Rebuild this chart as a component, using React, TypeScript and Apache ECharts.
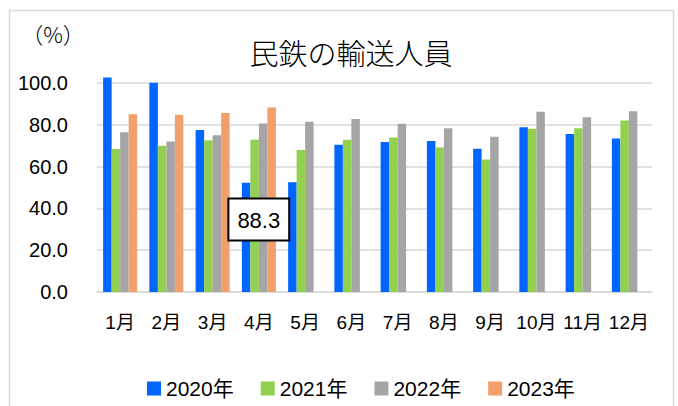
import React, { useEffect, useRef } from "react";
import * as echarts from "echarts";

const categories = ["1月", "2月", "3月", "4月", "5月", "6月", "7月", "8月", "9月", "10月", "11月", "12月"];
const seriesNames = ["2020年", "2021年", "2022年", "2023年"];
const values2020 = [102.6, 100.1, 77.5, 52.3, 52.5, 70.5, 71.8, 72.3, 68.5, 78.8, 75.6, 73.5];
const values2021 = [68.4, 70.0, 72.6, 72.9, 68.0, 72.8, 73.9, 69.1, 63.4, 78.1, 78.3, 82.0];
const values2022 = [76.4, 72.0, 75.0, 80.6, 81.4, 82.8, 80.5, 78.3, 74.3, 86.2, 83.6, 86.5];
const values2023: (number | null)[] = [85.1, 84.8, 85.6, 88.3, null, null, null, null, null, null, null, null];
const yTicks = [0, 20, 40, 60, 80, 100];
const colors = ["#0066ff", "#92d050", "#a5a5a5", "#f2a06b"];
const calloutIndex = 3;

const FONT = "'Liberation Sans', 'Noto Sans CJK JP', sans-serif";
const CJK = "'Noto Sans CJK JP', sans-serif";

export default function App() {
  const ref = useRef<HTMLDivElement>(null);
  useEffect(() => {
    if (!ref.current) return;
    const chart = echarts.init(ref.current, null, { renderer: "svg" });
    const allSeries = [values2020, values2021, values2022, values2023];
    chart.setOption({
      animation: false,
      backgroundColor: "#ffffff",
      textStyle: { fontFamily: FONT, color: "#000" },
      graphic: [
        {
          type: "rect",
          shape: { x: 9.5, y: 10.5, width: 664, height: 420 },
          style: { fill: "none", stroke: "#d9d9d9", lineWidth: 1.5 },
          silent: true,
          z: -10,
        },
        {
          type: "text",
          x: 53,
          y: 33,
          style: {
            text: "（%）",
            fontFamily: CJK,
            fontSize: 22,
            fontWeight: 300,
            fill: "#000",
            align: "center",
            verticalAlign: "middle",
          },
        },
      ],
      title: {
        text: "民鉄の輸送人員",
        left: 346,
        top: 47,
        textAlign: "center",
        textVerticalAlign: "middle",
        textStyle: { fontFamily: CJK, fontSize: 29, fontWeight: 300, color: "#000" },
      },
      legend: {
        data: seriesNames,
        left: 142,
        top: 373,
        itemWidth: 14,
        itemHeight: 14,
        itemGap: 27,
        icon: "rect",
        textStyle: { fontFamily: FONT, fontSize: 21, color: "#000" },
      },
      grid: { left: 97, right: 26, top: 83, bottom: 114, outerBoundsMode: "none" },
      xAxis: {
        type: "category",
        data: categories,
        axisLine: { lineStyle: { color: "#d9d9d9", width: 1.5 } },
        axisTick: { show: false },
        axisLabel: { fontFamily: FONT, fontSize: 19, color: "#000", margin: 21, interval: 0 },
      },
      yAxis: {
        type: "value",
        min: yTicks[0],
        max: yTicks[yTicks.length - 1],
        interval: 20,
        axisLine: { show: false },
        axisTick: { show: false },
        splitLine: { lineStyle: { color: "#d9d9d9", width: 1.5 } },
        axisLabel: {
          fontFamily: FONT,
          fontSize: 20,
          color: "#000",
          margin: 29,
          formatter: (v: number) => v.toFixed(1),
        },
      },
      series: allSeries.map((vals, i) => ({
        name: seriesNames[i],
        type: "bar",
        clip: false,
        barWidth: 8.5,
        barGap: "0%",
        itemStyle: { color: colors[i] },
        data: vals.map((v, j) => {
          if (i === 3 && j === calloutIndex && v != null) {
            return {
              value: v,
              label: {
                show: true,
                position: [-38, 92],
                align: "left",
                verticalAlign: "top",
                formatter: (p: any) => Number(p.value).toFixed(1),
                fontFamily: FONT,
                fontSize: 22,
                color: "#000",
                backgroundColor: "#fff",
                borderColor: "#000",
                borderWidth: 2,
                padding: [10, 8, 8, 8],
              },
            };
          }
          return v;
        }),
      })),
    });
    return () => chart.dispose();
  }, []);
  return <div ref={ref} style={{ width: 678, height: 406, position: "absolute", left: 0, top: 0 }} />;
}
